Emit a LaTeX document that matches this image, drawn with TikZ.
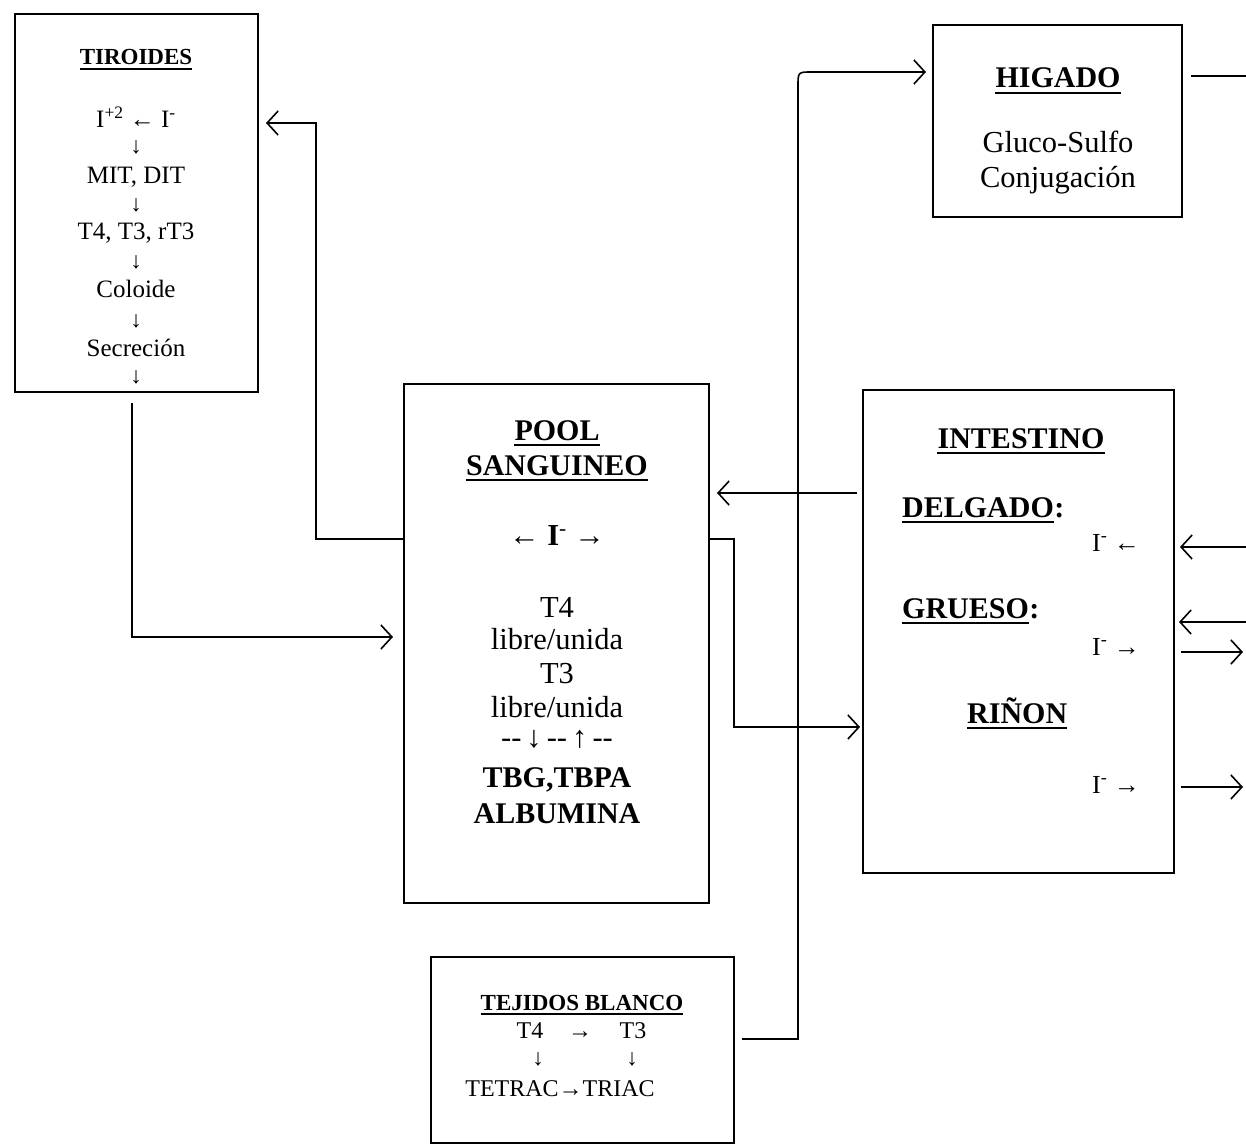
\documentclass[tikz,border=0pt]{standalone}
\usepackage{fontspec}
\setmainfont{Liberation Serif}
\usetikzlibrary{arrows.meta,calc}
\begin{document}
\begin{tikzpicture}[x=1pt,y=-1pt,
  box/.style={draw,line width=2pt,inner sep=0pt},
  conn/.style={line width=1.6pt},
  ulin/.style={line width=1.7pt},
  arr/.style={conn,-{Straight Barb[length=11pt,width=24pt,line width=1.6pt]}},
  txt/.style={inner sep=0pt,anchor=base},
  fT/.style={txt,font=\bfseries\fontsize{23}{26}\selectfont},
  fs/.style={txt,font=\fontsize{25}{28}\selectfont},
  fa/.style={txt,font=\bfseries\fontsize{23}{28}\selectfont},
  fB/.style={txt,font=\bfseries\fontsize{30}{34}\selectfont},
  fR/.style={txt,font=\fontsize{30.5}{34}\selectfont},
  fi/.style={txt,font=\fontsize{26}{30}\selectfont},
  fj/.style={txt,font=\fontsize{24}{28}\selectfont}]
\useasboundingbox (0,0) rectangle (1246,1147);
\fill[white] (0,0) rectangle (1246,1147);

% boxes
\node[box,minimum width=243pt,minimum height=378pt] (tir) at (136.5,203) {};
\node[box,minimum width=305pt,minimum height=519pt] (pool) at (556.5,643.5) {};
\node[box,minimum width=249pt,minimum height=192pt] (hig) at (1057.5,121) {};
\node[box,minimum width=311pt,minimum height=483pt] (intes) at (1018.5,631.5) {};
\node[box,minimum width=303pt,minimum height=186pt] (tej) at (582.5,1050) {};

% TIROIDES
\node[fT] (tirT) at (136,65) {TIROIDES};
\node[fs] (tirI) at (136,128) {I\textsuperscript{+2} ← I\textsuperscript{-}};
\node[fa] (tirA1) at (136,154) {↓};
\node[fs] (tirM) at (136,184) {MIT, DIT};
\node[fa] (tirA2) at (136,212) {↓};
\node[fs] (tirT4) at (136,240) {T4, T3, rT3};
\node[fa] (tirA3) at (136,269) {↓};
\node[fs] (tirC) at (136,298) {Coloide};
\node[fa] (tirA4) at (136,327) {↓};
\node[fs] (tirS) at (136,356) {Secreción};
\node[fa] (tirA5) at (136,383) {↓};

% POOL
\node[fB] (poolT1) at (557,440) {POOL};
\node[fB] (poolT2) at (557,475) {SANGUINEO};
\node[fR] (poolI) at (557,545) {← \textbf{I}\textsuperscript{-} →};
\node[fR] (poolT4) at (557,617) {T4};
\node[fR] (poolL1) at (557,649) {libre/unida};
\node[fR] (poolT3) at (557,683) {T3};
\node[fR] (poolL2) at (557,717) {libre/unida};
\node[fR] (poolD) at (557,747) {-{}-\,↓\,-{}-\,↑\,-{}-};
\node[fB] (poolTB) at (557,787) {TBG,TBPA};
\node[fB] (poolAL) at (557,823) {ALBUMINA};

% HIGADO
\node[fB] (higT) at (1058,88) {HIGADO};
\node[fR] (higG) at (1058,153) {Gluco-Sulfo};
\node[fR] (higC) at (1058,188) {Conjugación};

% INTESTINO
\node[fB] (intT) at (1021,448) {INTESTINO};
\node[fB,anchor=base west] (intD) at (902,517) {DELGADO};
\node[fB,anchor=base west] (intDc) at (intD.base east) {:};
\node[fi,anchor=base east] (intI1) at (1140,551) {I\textsuperscript{-} ←};
\node[fB,anchor=base west] (intG) at (902,618) {GRUESO};
\node[fB,anchor=base west] (intGc) at (intG.base east) {:};
\node[fi,anchor=base east] (intI2) at (1140,655) {I\textsuperscript{-} →};
\node[fB,anchor=base west] (intR) at (967,723) {RIÑON};
\node[fi,anchor=base east] (intI3) at (1140,793) {I\textsuperscript{-} →};

% TEJIDOS BLANCO
\node[fT] (tejT) at (582,1010) {TEJIDOS BLANCO};
\node[fj] (tejT4) at (530,1038) {T4};
\node[fj] (tejAr) at (580,1038) {→};
\node[fj] (tejT3) at (633,1038) {T3};
\node[fa] (tejD1) at (538,1065) {↓};
\node[fa] (tejD2) at (632,1065) {↓};
\node[fj] (tejTT) at (560,1096) {TETRAC→TRIAC};

% underlines
\foreach \n/\d in {tirT/4,poolT1/5,poolT2/5,higT/5,intT/5,intD/5,intG/5,intR/5,tejT/4}
  \draw[ulin] ($(\n.base west)+(0,\d)$) -- ($(\n.base east)+(0,\d)$);

% connectors
\draw[arr,shorten >=7pt] ($(pool.west)+(0,-104.5)$) -- ++(-87,0) |- ($(tir.east)+(0,-80)$);
\draw[arr,shorten >=10pt] ($(tir.south)+(-4.5,10)$) |- ($(pool.west)+(0,-6.5)$);
\draw[arr,shorten >=7pt] ($(intes.west)+(-5,-138.5)$) -- ($(pool.east)+(0,-150.5)$);
\draw[arr,shorten >=2pt] ($(pool.east)+(0,-104.5)$) -- ++(24,0) |- ($(intes.west)+(0,95.5)$);
\coordinate (tc) at ($(tej.east)+(7,-11)$);
\coordinate (vc) at ($(tej.east)+(63,-11)$);
\coordinate (hc) at ($(hig.west)+(0,-49)$);
\draw[arr,shorten >=6pt] (tc) -- (vc) -- ($(vc |- hc)+(0,14)$) .. controls (vc |- hc) .. ($(vc |- hc)+(14,0)$) -- (hc);
\draw[conn] ($(hig.east)+(8,-45)$) -- ($(hig.east)+(64,-45)$);
\draw[arr] ($(intes.east)+(72,-84.5)$) -- ($(intes.east)+(5,-84.5)$);
\draw[arr] ($(intes.east)+(72,-9.5)$) -- ($(intes.east)+(4,-9.5)$);
\draw[arr] ($(intes.east)+(6,20.5)$) -- ($(intes.east)+(68,20.5)$);
\draw[arr] ($(intes.east)+(6,155.5)$) -- ($(intes.east)+(68,155.5)$);
\end{tikzpicture}
\end{document}
